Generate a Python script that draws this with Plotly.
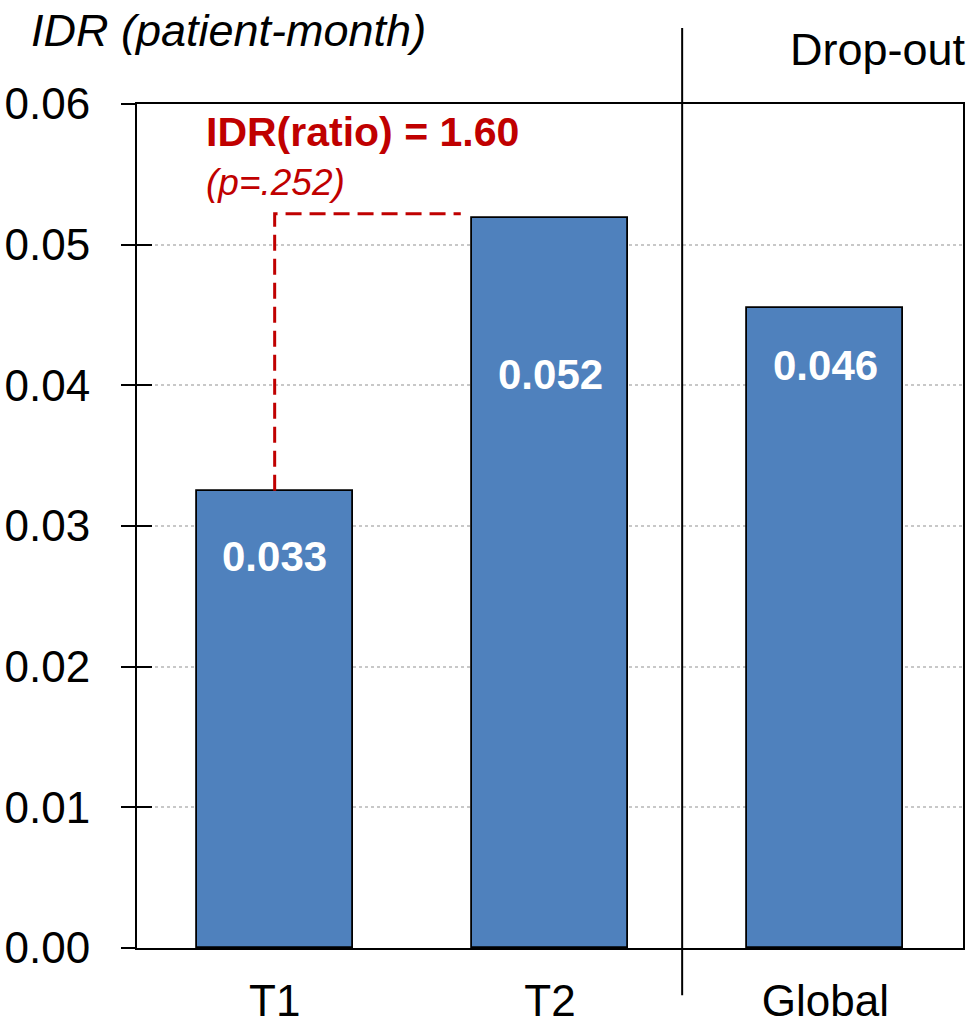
import plotly.graph_objects as go

categories = ["T1", "T2", "Global"]
idr_values = [0.0325, 0.0519, 0.0455]
value_labels = ["0.033", "0.052", "0.046"]
y_ticks = [0.00, 0.01, 0.02, 0.03, 0.04, 0.05, 0.06]
ratio_text = "IDR(ratio) = 1.60"
p_text = "(p=.252)"
bracket_top = 0.0522

FONT = "Liberation Sans, Arial, sans-serif"
RED = "#C00000"
BLUE = "#4F81BD"

xpos = list(range(len(categories)))
label_y = [0.0278, 0.0408, 0.0414]

fig = go.Figure()
fig.add_trace(go.Bar(
    x=xpos, y=idr_values, width=0.567,
    marker=dict(color=BLUE, line=dict(color="black", width=1.8)),
    showlegend=False, hoverinfo="skip",
))
fig.add_trace(go.Scatter(x=[0], y=[0], yaxis="y2", mode="markers",
                         marker=dict(opacity=0), showlegend=False, hoverinfo="skip"))

fig.add_trace(go.Scatter(
    x=[xpos[0], xpos[0], 0.676], y=[idr_values[0], bracket_top, bracket_top],
    mode="lines", line=dict(color=RED, width=3, dash="16px,8px"),
    showlegend=False, hoverinfo="skip",
))

annotations = []
for xi, lab, ly in zip(xpos, value_labels, label_y):
    annotations.append(dict(x=xi, y=ly, text=lab, showarrow=False, xref="x", yref="y",
                            font=dict(family=FONT, size=42, color="white", weight="bold"),
                            xanchor="center", yanchor="middle"))
annotations.append(dict(x=-0.255, y=0.0580, text=ratio_text, showarrow=False, xref="x", yref="y",
                        font=dict(family=FONT, size=41, color=RED, weight="bold"),
                        xanchor="left", yanchor="middle"))
annotations.append(dict(x=-0.255, y=0.0544, text=p_text, showarrow=False, xref="x", yref="y",
                        font=dict(family=FONT, size=37, color=RED, style="italic"),
                        xanchor="left", yanchor="middle"))
annotations.append(dict(x=-0.131, y=1.087, text="IDR (patient-month)", showarrow=False,
                        xref="paper", yref="paper",
                        font=dict(family=FONT, size=45, color="black", style="italic"),
                        xanchor="left", yanchor="middle"))
annotations.append(dict(x=1.006, y=1.065, text="Drop-out", showarrow=False,
                        xref="paper", yref="paper",
                        font=dict(family=FONT, size=45, color="black"),
                        xanchor="right", yanchor="middle"))

fig.update_layout(
    width=975, height=1030,
    margin=dict(l=137, r=12, t=104, b=82, autoexpand=False),
    paper_bgcolor="white", plot_bgcolor="white",
    font=dict(family=FONT, color="black"),
    bargap=0,
    annotations=annotations,
    shapes=[dict(type="line", xref="x", yref="paper", x0=1.48, x1=1.48,
                 y0=-0.056, y1=1.09, line=dict(color="black", width=2))],
    xaxis=dict(
        range=[-0.5, 2.5], tickmode="array", tickvals=xpos, ticktext=categories,
        tickfont=dict(size=44, family=FONT), ticks="",
        showline=True, linecolor="black", linewidth=2, mirror=True,
        showgrid=False, zeroline=False, ticklabelstandoff=13,
    ),
    yaxis=dict(
        range=[0, 0.06], tickmode="array", tickvals=y_ticks,
        ticktext=[f"{v:.2f}" for v in y_ticks],
        tickfont=dict(size=44, family=FONT),
        ticks="outside", ticklen=14, tickwidth=1.5, tickcolor="black",
        showline=True, linecolor="black", linewidth=2, mirror=True,
        showgrid=True, gridcolor="#c8c8c8", gridwidth=1.5, griddash="dot",
        zeroline=False, ticklabelstandoff=22,
    ),
    yaxis2=dict(
        overlaying="y", side="left", range=[0, 0.06], tickmode="array",
        tickvals=y_ticks[1:], ticks="inside", ticklen=15, tickwidth=1.5,
        tickcolor="black", showticklabels=False, showgrid=False,
        showline=False, zeroline=False,
    ),
)

fig.write_html("out.html", config={"displayModeBar": False})
with open("out.html", "r", encoding="utf-8") as f:
    html = f.read()
html = html.replace("<body>", '<body style="margin:0;padding:0;">', 1)
with open("out.html", "w", encoding="utf-8") as f:
    f.write(html)
